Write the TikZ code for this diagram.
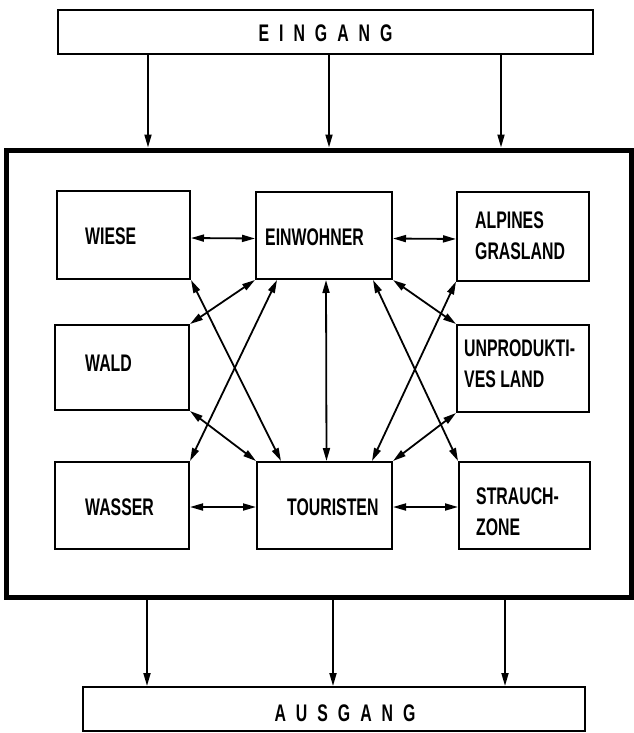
\documentclass[tikz,border=0pt]{standalone}
\usepackage{fontspec}
\setmainfont{Liberation Sans}[FakeStretch=0.66]
\usetikzlibrary{arrows.meta,positioning}

\begin{document}
\begin{tikzpicture}[x=1pt, y=-1pt, >={Triangle[length=13pt,width=7pt]},
            box/.style={draw, line width=2pt, inner sep=0pt},
            lbl/.style={font=\fontsize{24}{31}\selectfont\bfseries, inner sep=0pt, align=left, anchor=west},
            link/.style={<->, line width=1.8pt}]
            \useasboundingbox (0,0) rectangle (633,733);
            \node[draw, line width=5pt, minimum width=625pt, minimum height=447pt] (outer) at (318.5,373.5) {};
            \node[box, minimum width=535pt, minimum height=44pt] (eingang) at (325.5,32) {};
            \node[box, minimum width=502pt, minimum height=44pt] (ausgang) at (334,709) {};
            \node[box, minimum width=133pt, minimum height=88pt] (wiese) at (123.5,235) {};
            \node[box, minimum width=136pt, minimum height=87pt] (einwohner) at (324,235.5) {};
            \node[box, minimum width=132pt, minimum height=89pt] (alpines) at (523,236) {};
            \node[box, minimum width=134pt, minimum height=85pt] (wald) at (122,367.5) {};
            \node[box, minimum width=132pt, minimum height=87pt] (unprod) at (523,368.5) {};
            \node[box, minimum width=134pt, minimum height=87pt] (wasser) at (122,505.5) {};
            \node[box, minimum width=135pt, minimum height=87pt] (touristen) at (324.5,505.5) {};
            \node[box, minimum width=131pt, minimum height=87pt] (strauch) at (524.5,505.5) {};
            % texts
            \node[lbl, anchor=center, yshift=-1pt] (eingangtxt) at (eingang.center) {\spaceskip=10pt E I N G A N G};
            \node[lbl, anchor=center, xshift=11pt, yshift=-4pt] (ausgangtxt) at (ausgang.center) {\spaceskip=10pt A U S G A N G};
            \node[lbl, right=29pt of wiese.west, yshift=-1pt] (wiesetxt) {WIESE};
            \node[lbl, right=10pt of einwohner.west, yshift=-2pt] (einwohnertxt) {EINWOHNER};
            \node[lbl, right=19pt of alpines.west] (alpinestxt) {ALPINES\\GRASLAND};
            \node[lbl, right=31pt of wald.west, yshift=4pt] (waldtxt) {WALD};
            \node[lbl, right=8pt of unprod.west, yshift=4.5pt] (unprodtxt) {UNPRODUKTI-\\VES LAND};
            \node[lbl, right=31pt of wasser.west, yshift=-2pt] (wassertxt) {WASSER};
            \node[lbl, right=31pt of touristen.west, yshift=-1.5pt] (touristentxt) {TOURISTEN};
            \node[lbl, right=18pt of strauch.west, yshift=-6.5pt] (strauchtxt) {STRAUCH-\\ZONE};
            % in and out
            \foreach \x in {148,329,501}
                \draw[->, line width=1.8pt] (eingang.south -| \x,0) -- (outer.north -| \x,0);
            \foreach \x in {147,333,505}
                \draw[->, line width=1.8pt] (outer.south -| \x,0) -- (ausgang.north -| \x,0);
            % links inside
            \draw[link] ([yshift=-3pt]wiese.east) -- ([yshift=-3pt]einwohner.west);
            \draw[link] ([yshift=-3pt]einwohner.east) -- ([yshift=-3pt]alpines.west);
            \draw[link] ([yshift=-1.5pt]wasser.east) -- ([yshift=-1.5pt]touristen.west);
            \draw[link] ([yshift=-1.5pt]touristen.east) -- ([yshift=-1.5pt]strauch.west);
            \draw[link] (einwohner.south west) -- (wald.north east);
            \draw[link] (einwohner.south east) -- (unprod.north west);
            \draw[link] (wald.south east) -- (touristen.north west);
            \draw[link] (unprod.south west) -- (touristen.north east);
            \draw[link] ([xshift=2pt]einwohner.south) -- ([xshift=2pt]touristen.north);
            \draw[link] (wiese.south east) -- ([xshift=25pt]touristen.north west);
            \draw[link] ([xshift=22pt]einwohner.south west) -- (wasser.north east);
            \draw[link] (alpines.south west) -- ([xshift=-21pt]touristen.north east);
            \draw[link] ([xshift=-20pt]einwohner.south east) -- (strauch.north west);
\end{tikzpicture}
\end{document}
